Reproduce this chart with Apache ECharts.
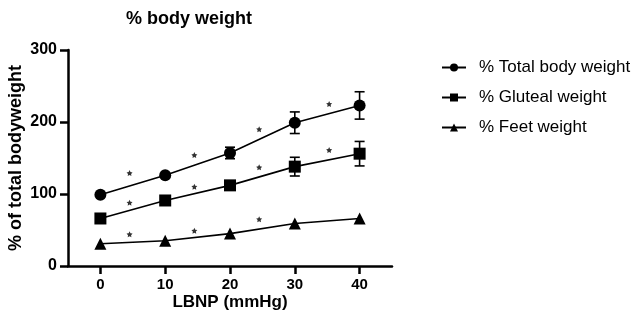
<!DOCTYPE html>
<html lang="en">
<head>
    <meta charset="UTF-8">
    <title>% body weight</title>
    <script src="https://cdn.jsdelivr.net/npm/echarts@6/dist/echarts.min.js"></script>
    <style>
        html, body { margin: 0; padding: 0; background: #fff; }
    </style>
</head>
<body>
<div id="main" style="width: 633px;height:326px;"></div>

<script type="text/javascript">
    // 数据
    var lbnp = [0, 10, 20, 30, 40];
    var xTicks = [0, 10, 20, 30, 40];
    var totalBody = [99, 126, 157, 199, 223];
    var totalBodyErr = [0, 0, 8, 15, 19];
    var gluteal = [66, 91, 112, 138, 156];
    var glutealErr = [0, 0, 4, 13, 17];
    var feet = [31, 35, 45, 59, 66];
    var feetErr = [0, 0, 0, 0, 0];
    // 显著性星号 (x, y)
    var starsTotal = [[4.5, 129], [14.5, 154], [24.5, 190], [35.3, 225]];
    var starsGluteal = [[4.5, 88], [14.5, 110], [24.5, 137], [35.3, 161]];
    var starsFeet = [[4.5, 44], [14.5, 49], [24.5, 65]];

    var starPath = 'path://M0,-10L2.9,-4L9.5,-3.1L4.8,1.5L5.9,8.1L0,5L-5.9,8.1L-4.8,1.5L-9.5,-3.1L-2.9,-4Z';
    var fontFam = '"Liberation Sans", Arial, Helvetica, sans-serif';

    function pairs(ys) {
        return lbnp.map(function (x, i) { return [x, ys[i]]; });
    }

    function errData(ys, errs) {
        return lbnp.map(function (x, i) { return [x, ys[i] - errs[i], ys[i] + errs[i]]; });
    }

    function errorBars(data) {
        return {
            type: 'custom',
            data: data,
            z: 1,
            renderItem: function (params, api) {
                var x = api.value(0);
                var lo = api.coord([x, api.value(1)]);
                var hi = api.coord([x, api.value(2)]);
                if (Math.abs(lo[1] - hi[1]) < 1) return;
                var w = 5;
                var st = {stroke: '#000', lineWidth: 1.6};
                return {
                    type: 'group',
                    children: [
                        {type: 'line', shape: {x1: hi[0], y1: hi[1], x2: lo[0], y2: lo[1]}, style: st},
                        {type: 'line', shape: {x1: hi[0] - w, y1: hi[1], x2: hi[0] + w, y2: hi[1]}, style: st},
                        {type: 'line', shape: {x1: lo[0] - w, y1: lo[1], x2: lo[0] + w, y2: lo[1]}, style: st}
                    ]
                };
            }
        };
    }

    function stars(data) {
        return {
            type: 'scatter',
            data: data,
            symbol: starPath,
            symbolSize: 6,
            itemStyle: {color: '#000'},
            silent: true
        };
    }

    function lineSeries(name, ys, sym, size) {
        return {
            name: name,
            type: 'line',
            data: pairs(ys),
            symbol: sym,
            symbolSize: size,
            showAllSymbol: true,
            z: 3,
            lineStyle: {color: '#000', width: 1.6},
            itemStyle: {color: '#000', borderWidth: 0}
        };
    }

    var myChart = echarts.init(document.getElementById('main'));
    myChart.setOption({
        animation: false,
        title: {
            text: '% body weight',
            left: 184,
            textAlign: 'center',
            top: 5,
            textStyle: {fontFamily: fontFam, fontSize: 18, fontWeight: 'bold', color: '#000'}
        },
        legend: {
            orient: 'vertical',
            left: 441,
            top: 59,
            padding: 0,
            itemGap: 13,
            itemWidth: 24,
            itemHeight: 10,
            data: ['% Total body weight', '% Gluteal weight', '% Feet weight'],
            textStyle: {fontFamily: fontFam, fontSize: 17, color: '#000', padding: [0, 0, 0, 8]}
        },
        grid: {left: 68, right: 241, top: 50, bottom: 60, containLabel: false, outerBoundsMode: 'none'},
        xAxis: {
            type: 'value',
            min: -5,
            max: 45,
            name: 'LBNP (mmHg)',
            nameLocation: 'middle',
            nameGap: 28,
            nameMoveOverlap: false,
            nameTextStyle: {fontFamily: fontFam, fontSize: 17, fontWeight: 'bold', color: '#000'},
            splitLine: {show: false},
            axisLine: {onZero: false, lineStyle: {color: '#000', width: 2.5}},
            axisTick: {customValues: xTicks, length: 8, lineStyle: {color: '#000', width: 2.5}},
            axisLabel: {customValues: xTicks, margin: 11, fontFamily: fontFam, fontSize: 15, fontWeight: 'bold', color: '#000'}
        },
        yAxis: {
            type: 'value',
            min: 0,
            max: 300,
            interval: 100,
            name: '% of total bodyweight',
            nameLocation: 'middle',
            nameGap: 43,
            nameMoveOverlap: false,
            nameTextStyle: {fontFamily: fontFam, fontSize: 18, fontWeight: 'bold', color: '#000'},
            splitLine: {show: false},
            axisLine: {show: true, onZero: false, lineStyle: {color: '#000', width: 2.5}},
            axisTick: {show: true, length: 8, lineStyle: {color: '#000', width: 2.5}},
            axisLabel: {margin: 11, fontFamily: fontFam, fontSize: 16, fontWeight: 'bold', color: '#000'}
        },
        series: [
            lineSeries('% Total body weight', totalBody, 'circle', 12),
            lineSeries('% Gluteal weight', gluteal, 'rect', 12),
            lineSeries('% Feet weight', feet, 'triangle', 12),
            errorBars(errData(totalBody, totalBodyErr)),
            errorBars(errData(gluteal, glutealErr)),
            errorBars(errData(feet, feetErr)),
            stars(starsTotal),
            stars(starsGluteal),
            stars(starsFeet)
        ]
    });
</script>
</body>
</html>
